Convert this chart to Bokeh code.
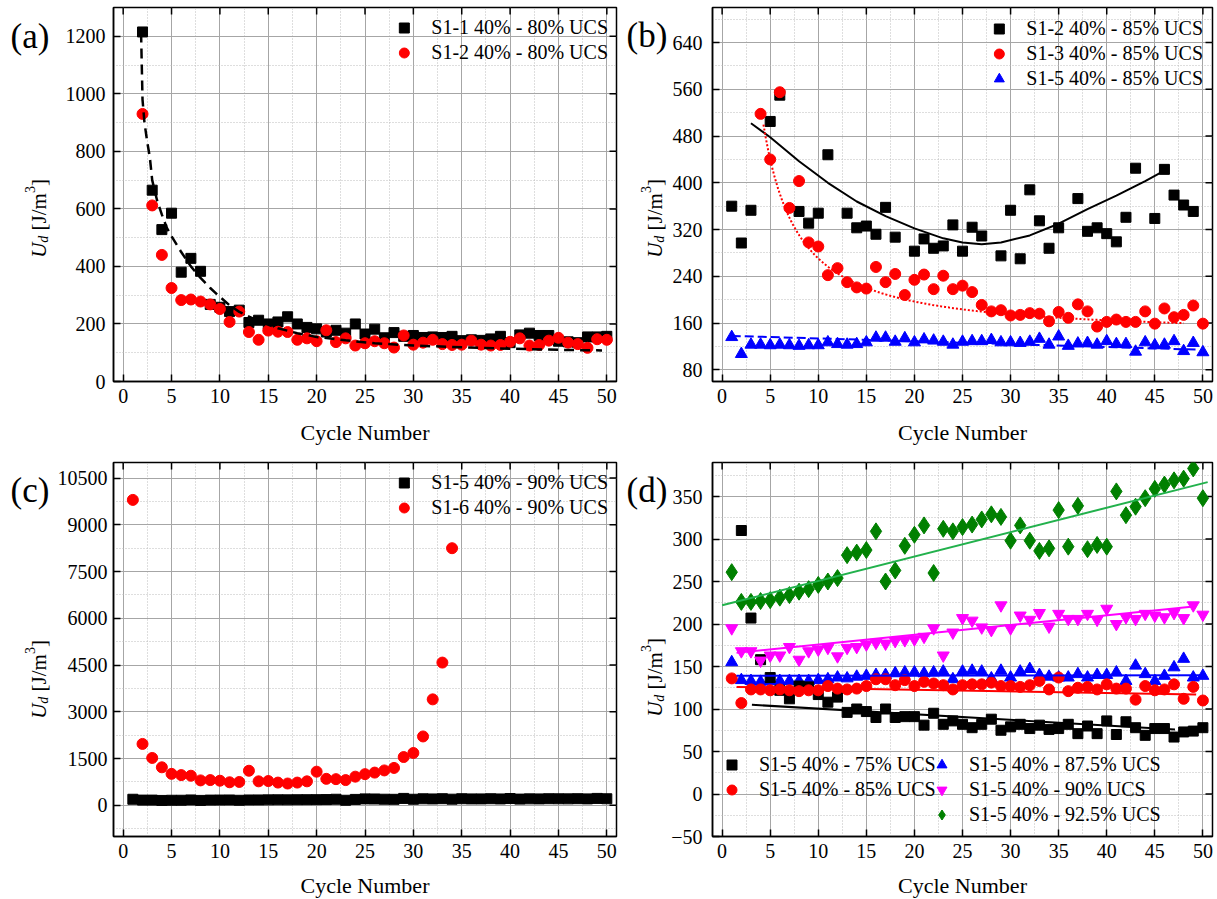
import numpy as np
from bokeh.plotting import figure
from bokeh.models import (Range1d, SingleIntervalTicker, LinearAxis, Grid, Label,
                          Legend, LegendItem)
from bokeh.layouts import column, row
from bokeh.embed import file_html
from bokeh.resources import INLINE

FONT = "Liberation Serif"

# ---------------- data ----------------
# (a)
a_x = list(range(2, 51))
a_s11_80 = [1215, 665, 528, 585, 380, 428, 383, 268, 258, 243, 248, 205, 213, 200, 207, 225,
            200, 188, 183, 172, 178, 168, 200, 165, 182, 152, 170, 157, 160, 153, 155, 153,
            157, 142, 145, 143, 148, 157, 135, 162, 168, 160, 160, 140, 138, 135, 155, 155, 157]
a_s12_80 = [930, 612, 440, 325, 283, 285, 278, 268, 252, 207, 243, 172, 145, 177, 173, 172,
            145, 150, 140, 178, 137, 150, 125, 133, 140, 133, 118, 160, 128, 135, 145, 130,
            127, 128, 142, 128, 125, 127, 138, 150, 125, 127, 142, 152, 135, 130, 117, 147, 145]
# dashed fit curve of (a)
a_fit_x = [1.85, 2.0, 2.2, 2.5, 2.75, 3.0, 3.5, 4.0, 4.5, 5.0, 6.0, 7.0, 8.0, 9.0, 10, 11, 12,
           14, 16, 18, 20, 23, 26, 30, 35, 40, 45, 49.5]
a_fit_y = [1213, 980, 900, 830, 781, 700, 630, 580, 535, 505, 450, 400, 360, 325, 294, 265, 242,
           210, 185, 168, 155, 143, 133, 125, 119, 114, 110, 108]

# (b)
b_s12_x = [1, 2, 3, 5, 6, 8, 9, 10, 11, 13, 14, 15, 16, 17, 18, 20, 21, 22, 23, 24, 25, 26, 27,
           29, 30, 31, 32, 33, 34, 35, 37, 38, 39, 40, 41, 42, 43, 45, 46, 47, 48, 49]
b_s12_85 = [360, 297, 353, 505, 550, 351, 331, 348, 448, 348, 323, 326, 312, 358, 307, 283, 304,
            288, 292, 328, 283, 324, 309, 275, 353, 270, 388, 335, 288, 323, 373, 317, 323, 313,
            299, 341, 425, 339, 423, 379, 362, 351]
b_s13_x = list(range(4, 51))
b_s13_85 = [518, 440, 555, 357, 403, 298, 291, 242, 254, 230, 221, 219, 256, 230, 244, 208, 234,
            243, 218, 241, 218, 224, 213, 191, 180, 182, 173, 174, 177, 176, 163, 179, 169, 192,
            180, 154, 162, 166, 162, 162, 180, 159, 185, 170, 174, 190, 159]
all_x = list(range(1, 51))
s15_85 = [136, 107, 123, 123, 122, 123, 122, 121, 122, 122, 127, 124, 123, 124, 127, 135, 135,
          128, 134, 127, 132, 130, 128, 123, 128, 129, 129, 131, 127, 127, 126, 128, 133, 123,
          137, 121, 125, 126, 123, 129, 124, 124, 111, 127, 122, 123, 129, 112, 126, 110]
# fit curves of (b)
b_black_fit_x = [3, 5, 8, 11, 14, 17, 20, 23, 25, 27, 29, 32, 35, 38, 41, 44, 46]
b_black_fit_y = [502, 478, 437, 400, 368, 343, 322, 305, 298, 295, 298, 310, 330, 355, 378, 403, 421]
b_red_fit = dict(c=140.0, a=2070.0, b=-1.2, x0=4.3, x1=48.0)       # y = c + a*x^b
b_blue_fit = dict(c=138.5, m=-0.484, x0=1.0, x1=49.5)               # y = c + m*x

# (c)
c_x = list(range(1, 35))
c_s16_90 = [9800, 1970, 1520, 1220, 1010, 970, 950, 800, 810, 790, 740, 750, 1110, 770, 780, 730,
            700, 730, 770, 1080, 850, 840, 810, 920, 1000, 1050, 1120, 1200, 1550, 1680, 2210,
            3400, 4580, 8250]
s15_90 = [195, 168, 168, 157, 163, 163, 173, 158, 168, 170, 172, 162, 172, 173, 176, 178, 177,
          180, 181, 182, 185, 195, 163, 190, 207, 204, 196, 193, 222, 195, 210, 205, 213, 197,
          212, 206, 206, 212, 205, 218, 200, 208, 206, 212, 210, 208, 213, 207, 222, 211]

# (d)
d75_x = list(range(2, 51))
s15_75 = [310, 207, 158, 137, 122, 112, 127, 126, 117, 108, 114, 96, 100, 97, 90, 100, 90, 91,
          91, 81, 95, 82, 86, 82, 78, 82, 88, 75, 79, 82, 77, 81, 76, 77, 82, 71, 80, 71, 86,
          70, 85, 78, 69, 77, 77, 67, 73, 74, 78]
s15_875 = [155, 134, 133, 132, 133, 133, 133, 133, 133, 134, 135, 137, 136, 138, 139, 140, 140,
           142, 143, 143, 142, 143, 144, 135, 144, 145, 144, 136, 145, 137, 144, 147, 140, 138,
           137, 137, 141, 137, 140, 140, 143, 133, 151, 141, 133, 139, 149, 159, 137, 139]
s15_925 = [261, 226, 226, 227, 228, 231, 234, 238, 241, 246, 250, 254, 281, 284, 287, 309, 250,
           263, 292, 305, 316, 260, 312, 309, 314, 317, 323, 329, 326, 298, 316, 298, 286, 289,
           334, 291, 339, 288, 293, 291, 356, 328, 338, 348, 359, 364, 369, 371, 383, 348]
# linear fits of (d): intercept, slope, x-start, x-end
d_fits = {
    "75": (107.0, -0.659, 3.1, 47.1),
    "85": (126.3, -0.188, 1.5, 49.3),
    "87.5": (139.2, 0.01, 1.5, 50.0),
    "90": (164.3, 1.15, 1.5, 49.3),
    "92.5": (222.0, 2.87, 0.0, 50.5),
}

x_ticks = list(range(0, 51, 5))

FRAME_H = 374


def panel(ylo, yhi, ystep, yfirst, left_b, frame_w, right_b, top_b, bottom_b, standoff,
          title_standoff):
    p = figure(frame_width=frame_w, frame_height=FRAME_H,
               min_border_left=left_b, min_border_right=right_b,
               min_border_top=top_b, min_border_bottom=bottom_b,
               x_range=Range1d(-1, 51), y_range=Range1d(ylo, yhi),
               x_axis_type=None, y_axis_type=None,
               output_backend="svg", toolbar_location=None)
    p.outline_line_color = "black"
    p.outline_line_width = 1.5
    p.background_fill_color = "white"
    p.border_fill_color = "white"
    xt = SingleIntervalTicker(interval=5, num_minor_ticks=2)
    yt = SingleIntervalTicker(interval=ystep, num_minor_ticks=2)
    xa = LinearAxis(ticker=xt, axis_label="Cycle Number")
    ya = LinearAxis(ticker=yt)
    for ax in (xa, ya):
        ax.major_tick_in = 7
        ax.major_tick_out = 0
        ax.minor_tick_in = 0
        ax.minor_tick_out = 0
        ax.minor_tick_line_color = None
        ax.major_tick_line_width = 1.5
        ax.axis_line_width = 1.5
        ax.axis_line_color = "black"
        ax.major_label_text_font = FONT
        ax.major_label_text_font_size = "20px"
        ax.major_label_text_color = "black"
        ax.major_label_standoff = 7
    ya.major_label_standoff = standoff
    xa.axis_label_text_font = FONT
    xa.axis_label_text_font_size = "22px"
    xa.axis_label_text_font_style = "normal"
    xa.axis_label_text_color = "black"
    xa.axis_label_standoff = title_standoff
    p.add_layout(xa, "below")
    p.add_layout(ya, "left")
    for dim, tk in ((0, xt), (1, yt)):
        g = Grid(dimension=dim, ticker=tk, grid_line_color="#a6a6a6", grid_line_width=1,
                 minor_grid_line_color="#bdbdbd", minor_grid_line_dash="1 2",
                 minor_grid_line_width=1)
        p.add_layout(g)
    # mirrored inward ticks on top and right edges
    y_ticks = list(np.arange(yfirst, yhi, ystep))
    p.scatter(x_ticks, [yhi] * len(x_ticks), marker="dash", size=14, angle=np.pi / 2,
              line_color="black", line_width=1.5)
    p.scatter([51] * len(y_ticks), y_ticks, marker="dash", size=14,
              line_color="black", line_width=1.5)
    return p


def side(width, height, tag_text, tag_x, tag_y, lab_xc, lab_yc):
    """Narrow text-only strip left of a panel: panel tag and the U_d axis title."""
    s = figure(frame_width=width, frame_height=height, min_border=0,
               x_range=Range1d(0, width), y_range=Range1d(0, height),
               x_axis_type=None, y_axis_type=None, output_backend="svg",
               toolbar_location=None)
    s.outline_line_color = None
    s.grid.visible = False
    s.background_fill_color = "white"
    s.border_fill_color = "white"
    s.add_layout(Label(x=tag_x, y=tag_y, text=tag_text, text_font=FONT,
                       text_font_size="35px", text_align="left", text_baseline="middle",
                       text_color="black"))
    fs, sfs = 21, 14
    wU = 0.722 * fs
    wd = 0.5 * sfs
    wsp = 0.25 * fs
    wmid = (0.333 + 0.389 + 0.278 + 0.778) * fs
    w3 = 0.5 * sfs
    wb = 0.333 * fs
    L = wU + wd + wsp + wmid + w3 + wb
    y0 = lab_yc - L / 2
    xb = lab_xc + 6
    parts = [("U", fs, "italic", xb, y0),
             ("d", sfs, "italic", xb + 4.5, y0 + wU),
             ("[J/m", fs, "normal", xb, y0 + wU + wd + wsp),
             ("3", sfs, "normal", xb - 9, y0 + wU + wd + wsp + wmid),
             ("]", fs, "normal", xb, y0 + wU + wd + wsp + wmid + w3)]
    for t, sz, st, x, y in parts:
        s.add_layout(Label(x=x, y=y, text=t, angle=90, angle_units="deg", text_font=FONT,
                           text_font_size=f"{sz}px", text_font_style=st,
                           text_align="left", text_baseline="alphabetic",
                           text_color="black"))
    return s


def legend(p, items, **kw):
    leg = Legend(items=[LegendItem(label=l, renderers=[r]) for l, r in items], **kw)
    leg.label_text_font = FONT
    leg.label_text_font_size = "20px"
    leg.label_text_color = "black"
    leg.glyph_width = 25
    leg.glyph_height = 25
    leg.label_height = 25
    leg.label_standoff = 15
    leg.spacing = 0
    leg.background_fill_alpha = 0
    leg.border_line_alpha = 0
    p.add_layout(leg)
    return leg


TOP_H, BOT_H = 449, 450

# ---------------- (a) ----------------
sa = side(56, TOP_H, "(a)", 10, TOP_H - 29, 32, TOP_H - 211)
pa = panel(0, 1300, 200, 0, 57, 503, 4, 7, 68, 8, 14)
ra1 = pa.scatter(a_x, a_s11_80, marker="square", size=10, color="black")
ra2 = pa.scatter(a_x, a_s12_80, marker="circle", size=11, color="#ff0000")
pa.line(a_fit_x, a_fit_y, line_color="black", line_width=2.5, line_dash="10 6")
legend(pa, [("S1-1 40% - 80% UCS", ra1), ("S1-2 40% - 80% UCS", ra2)],
       location="top_right", margin=2, padding=6)

# ---------------- (b) ----------------
sb = side(48, TOP_H, "(b)", 6, TOP_H - 28, 28.5, TOP_H - 211)
pb = panel(60, 700, 80, 80, 44, 500, 5, 7, 68, 10, 14)
rb1 = pb.scatter(b_s12_x, b_s12_85, marker="square", size=10, color="black")
rb2 = pb.scatter(b_s13_x, b_s13_85, marker="circle", size=11, color="#ff0000")
rb3 = pb.scatter(all_x, s15_85, marker="triangle", size=12, color="#0000ff")
pb.line(b_black_fit_x, b_black_fit_y, line_color="black", line_width=2)
xr = np.linspace(b_red_fit["x0"], b_red_fit["x1"], 200)
pb.line(xr, b_red_fit["c"] + b_red_fit["a"] * xr ** b_red_fit["b"],
        line_color="#ff0000", line_width=2, line_dash="2 2")
xbl = np.array([b_blue_fit["x0"], b_blue_fit["x1"]])
pb.line(xbl, b_blue_fit["c"] + b_blue_fit["m"] * xbl, line_color="#0000ff", line_width=2,
        line_dash="9 4")
legend(pb, [("S1-2 40% - 85% UCS", rb1), ("S1-3 40% - 85% UCS", rb2),
            ("S1-5 40% - 85% UCS", rb3)],
       location="top_right", margin=4, padding=5)

# ---------------- (c) ----------------
sc = side(54, BOT_H, "(c)", 10, BOT_H - 28, 32, BOT_H - 217)
pc = panel(-1000, 11000, 1500, 0, 59, 503, 4, 13, 63, 6, 12)
rc1 = pc.scatter(all_x, s15_90, marker="square", size=10, color="black")
rc2 = pc.scatter(c_x, c_s16_90, marker="circle", size=11, color="#ff0000")
legend(pc, [("S1-5 40% - 90% UCS", rc1), ("S1-6 40% - 90% UCS", rc2)],
       location="top_right", margin=2, padding=6)

# ---------------- (d) ----------------
sd = side(48, BOT_H, "(d)", 6, BOT_H - 28, 28.5, BOT_H - 215)
pd_ = panel(-50, 390, 50, -50, 44, 500, 5, 13, 63, 10, 12)
rd3 = pd_.scatter(all_x, s15_875, marker="triangle", size=12, color="#0000ff")
rd1 = pd_.scatter(d75_x, s15_75, marker="square", size=10, color="black")
rd2 = pd_.scatter(all_x, s15_85, marker="circle", size=11, color="#ff0000")
rd4 = pd_.scatter(all_x, s15_90, marker="inverted_triangle", size=12, color="#ff00ff")
rd5 = pd_.scatter(all_x, s15_925, marker="diamond", size=17, color="#008000")
fit_colors = {"75": "black", "85": "#ff0000", "87.5": "#0000ff", "90": "#ff00ff",
              "92.5": "#22b14c"}
for k, (c0, m, x0, x1) in d_fits.items():
    xx = np.array([x0, x1])
    pd_.line(xx, c0 + m * xx, line_color=fit_colors[k], line_width=2)
legend(pd_, [("S1-5 40% - 75% UCS", rd1), ("S1-5 40% - 85% UCS", rd2)],
       location=(2, 29), margin=0, padding=5)
legend(pd_, [("S1-5 40% - 87.5% UCS", rd3), ("S1-5 40% - 90% UCS", rd4),
             ("S1-5 40% - 92.5% UCS", rd5)],
       location=(212, 4), margin=0, padding=5)

layout = column(row(sa, pa, sb, pb), row(sc, pc, sd, pd_))
open("out.html", "w").write(file_html(layout, INLINE))
